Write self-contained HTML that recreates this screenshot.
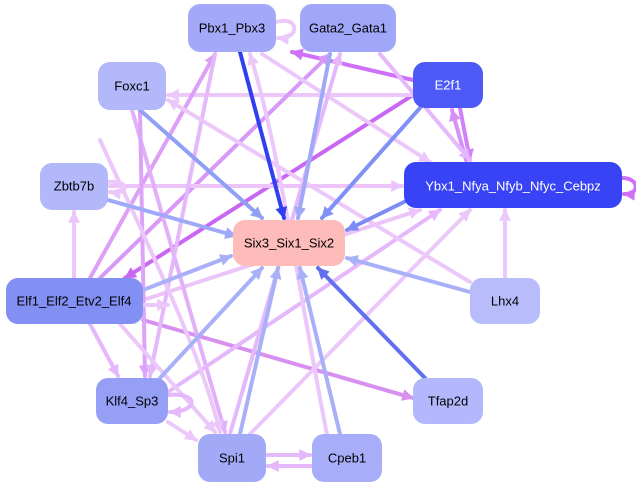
<!DOCTYPE html>
<html><head><meta charset="utf-8"><style>
html,body{margin:0;padding:0;background:#fff;}
svg{display:block;font-family:"Liberation Sans",sans-serif;}
</style></head><body>
<svg width="636" height="489" viewBox="0 0 636 489" xmlns="http://www.w3.org/2000/svg">
<defs>
<marker id="a" viewBox="0 0 10 10" refX="9" refY="5" markerWidth="3" markerHeight="3" orient="auto" markerUnits="strokeWidth"><path d="M0,0L10,5L0,10z" fill="context-stroke"/></marker>
</defs>
<g fill="none" stroke-width="4" stroke-linecap="round" marker-end="url(#a)">
<!-- pink/purple edges -->
<path d="M413,80L292,52" stroke="#d070f8"/>
<path d="M413,95L125,278" stroke="#c868f2"/>
<path d="M460,108L470,160" stroke="#d080f8"/>
<path d="M466,160L452,110" stroke="#d890f8"/>
<path d="M413,95L168,95" stroke="#ecc8fa"/>
<path d="M74,278L74,212" stroke="#ecc8fa"/>
<path d="M90,278L215,54" stroke="#dca0f8"/>
<path d="M100,278L330,54" stroke="#d898f8"/>
<path d="M90,324L118,376" stroke="#e4b8fa"/>
<path d="M143,320L413,398" stroke="#d890f0"/>
<path d="M143,300L420,210" stroke="#ecc4fa"/>
<path d="M110,186L402,186" stroke="#ecc4fa"/>
<path d="M132,110L225,432" stroke="#e2b0f8"/>
<path d="M140,112L145,376" stroke="#dca4f8"/>
<path d="M215,54L150,376" stroke="#e4b8fa"/>
<path d="M380,54L470,160" stroke="#e4b8fa"/>
<path d="M262,54L430,162" stroke="#ecc8fa"/>
<path d="M168,392L440,210" stroke="#e4b8fa"/>
<path d="M250,434L470,210" stroke="#ecc8fa"/>
<path d="M230,434L340,54" stroke="#e4b8fa"/>
<path d="M470,282L168,100" stroke="#ecc8fa"/>
<path d="M505,278L505,210" stroke="#ecc8fa"/>
<path d="M330,450C300,300 280,150 250,54" stroke="#ecc8fa"/>
<path d="M266,455L310,455" stroke="#e4b8fa"/>
<path d="M312,466L268,466" stroke="#e4b8fa"/>
<path d="M168,422L196,440" stroke="#ecc8fa"/>
<path d="M120,324L215,432" stroke="#ecc8fa"/>
<path d="M100,140C150,250 200,350 220,432" stroke="#ecc8fa"/>
<path d="M276,22C300,15 300,40 278,38" stroke="#ecc8fa"/>
<path d="M168,395C200,392 198,412 170,412" stroke="#e4b8fa"/>
<path d="M622,178C640,178 640,195 624,194" stroke="#d070f8"/>
<path d="M108,182C130,180 130,195 110,192" stroke="#ecc8fa"/>
<path d="M143,305L168,305" stroke="#ecc8fa"/>
<!-- blue edges to Six3 -->
<path d="M240,52L284,218" stroke="#3040f0"/>
<path d="M330,54L298,218" stroke="#a0a8f8"/>
<path d="M420,108L322,218" stroke="#8090f5"/>
<path d="M404,202L347,230" stroke="#7c8af5"/>
<path d="M140,110L262,218" stroke="#90a0f5"/>
<path d="M108,200L236,236" stroke="#a0a8f8"/>
<path d="M143,290L231,256" stroke="#aab0f8"/>
<path d="M470,292L347,258" stroke="#a8b0f8"/>
<path d="M425,378L318,268" stroke="#6070f0"/>
<path d="M160,378L262,268" stroke="#a8b0f8"/>
<path d="M240,434L278,268" stroke="#a8b0f8"/>
<path d="M340,434L300,268" stroke="#a8b0f8"/>
</g>
<g font-size="13" text-anchor="middle" dominant-baseline="central">
<rect x="188" y="4" width="88" height="48" rx="12" fill="#a3a9f8"/><text x="232" y="28">Pbx1_Pbx3</text>
<rect x="300" y="4" width="96" height="48" rx="12" fill="#a0a7f8"/><text x="348" y="28">Gata2_Gata1</text>
<rect x="413" y="62" width="70" height="46" rx="12" fill="#4e5af8"/><text x="448" y="85" fill="#fff">E2f1</text>
<rect x="98" y="62" width="68" height="48" rx="12" fill="#b3b8fb"/><text x="132" y="86">Foxc1</text>
<rect x="404" y="162" width="218" height="46" rx="12" fill="#3843f5"/><text x="513" y="186" fill="#fff">Ybx1_Nfya_Nfyb_Nfyc_Cebpz</text>
<rect x="40" y="163" width="68" height="47" rx="12" fill="#b3b8fb"/><text x="74" y="186">Zbtb7b</text>
<rect x="233" y="220" width="112" height="46" rx="12" fill="#fdbcba"/><text x="289" y="243">Six3_Six1_Six2</text>
<rect x="6" y="278" width="137" height="46" rx="12" fill="#8390f3"/><text x="74" y="301">Elf1_Elf2_Etv2_Elf4</text>
<rect x="470" y="278" width="70" height="46" rx="12" fill="#b8bcfb"/><text x="505" y="301">Lhx4</text>
<rect x="96" y="378" width="72" height="46" rx="12" fill="#959ff6"/><text x="132" y="401">Klf4_Sp3</text>
<rect x="413" y="378" width="70" height="46" rx="12" fill="#b2b8fb"/><text x="448" y="401">Tfap2d</text>
<rect x="198" y="434" width="68" height="48" rx="12" fill="#a2aaf8"/><text x="232" y="458">Spi1</text>
<rect x="312" y="434" width="70" height="48" rx="12" fill="#a7adf8"/><text x="347" y="458">Cpeb1</text>
</g>
</svg>
</body></html>
